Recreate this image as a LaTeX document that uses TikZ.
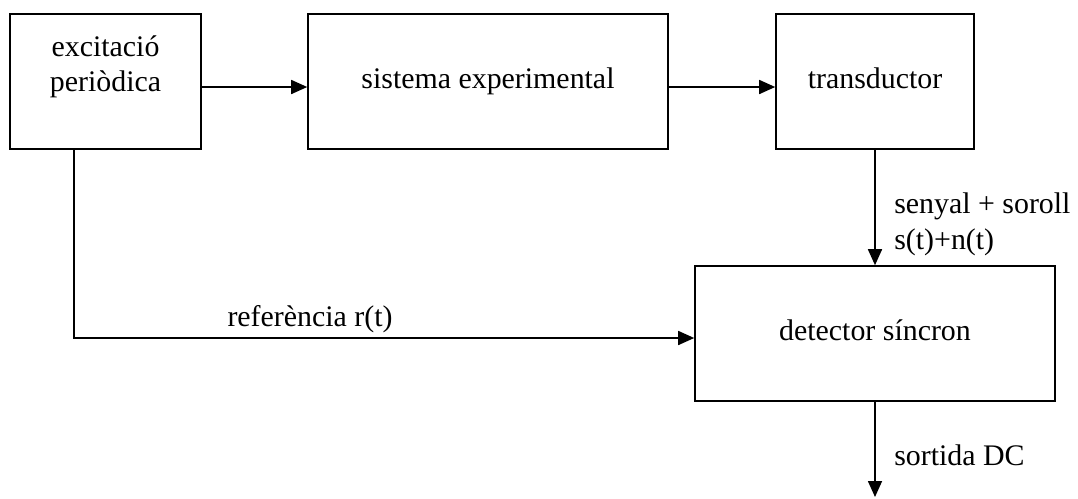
\documentclass[tikz,border=0pt]{standalone}
\usepackage{fontspec}
\setmainfont{Liberation Serif}
\usetikzlibrary{arrows.meta,calc}
\tikzset{
  blok/.style={draw,line width=0.9pt,minimum height=27mm,align=center,inner sep=0pt},
  oneline/.style={text height=4.2mm,text depth=1.6mm},
  conn/.style={line width=0.9pt,-{Triangle[length=3.2mm,width=2.8mm]}},
  lbl/.style={inner sep=0pt,anchor=base west},
}

\begin{document}
\begin{tikzpicture}[x=0.2mm,y=-0.2mm,font=\fontsize{17}{20}\selectfont]
\useasboundingbox (0,0) rectangle (1078,498);

\node[blok,minimum width=38.2mm] (exc) at (105.5,81.5) {excitació\\periòdica\\\mbox{}};
\node[blok,oneline,minimum width=72mm] (sis) at (488,81.5) {sistema experimental};
\node[blok,oneline,minimum width=39.6mm] (tra) at (875,81.5) {transductor};
\node[blok,oneline,minimum width=72mm] (det) at (875,333.5) {detector síncron};

\coordinate (ref) at (74,338);
\coordinate (out) at (875,497);

\draw[conn] ([yshift=-1.1mm]exc.east) -- ([yshift=-1.1mm]sis.west);
\draw[conn] ([yshift=-1.1mm]sis.east) -- ([yshift=-1.1mm]tra.west);
\draw[conn] (tra) -- (det);
\draw[conn] (exc.south -| ref) -- (ref) -- (ref -| det.west);
\draw[conn] (det) -- (out);

\node[lbl] (sen) at (894,213) {senyal + soroll};
\node[lbl] (stn) at (894,249) {s(t)+n(t)};
\node[lbl] (sor) at (894,465) {sortida DC};
\node[inner sep=0pt,anchor=base] (rft) at (310,326) {referència r(t)};

\end{tikzpicture}
\end{document}
